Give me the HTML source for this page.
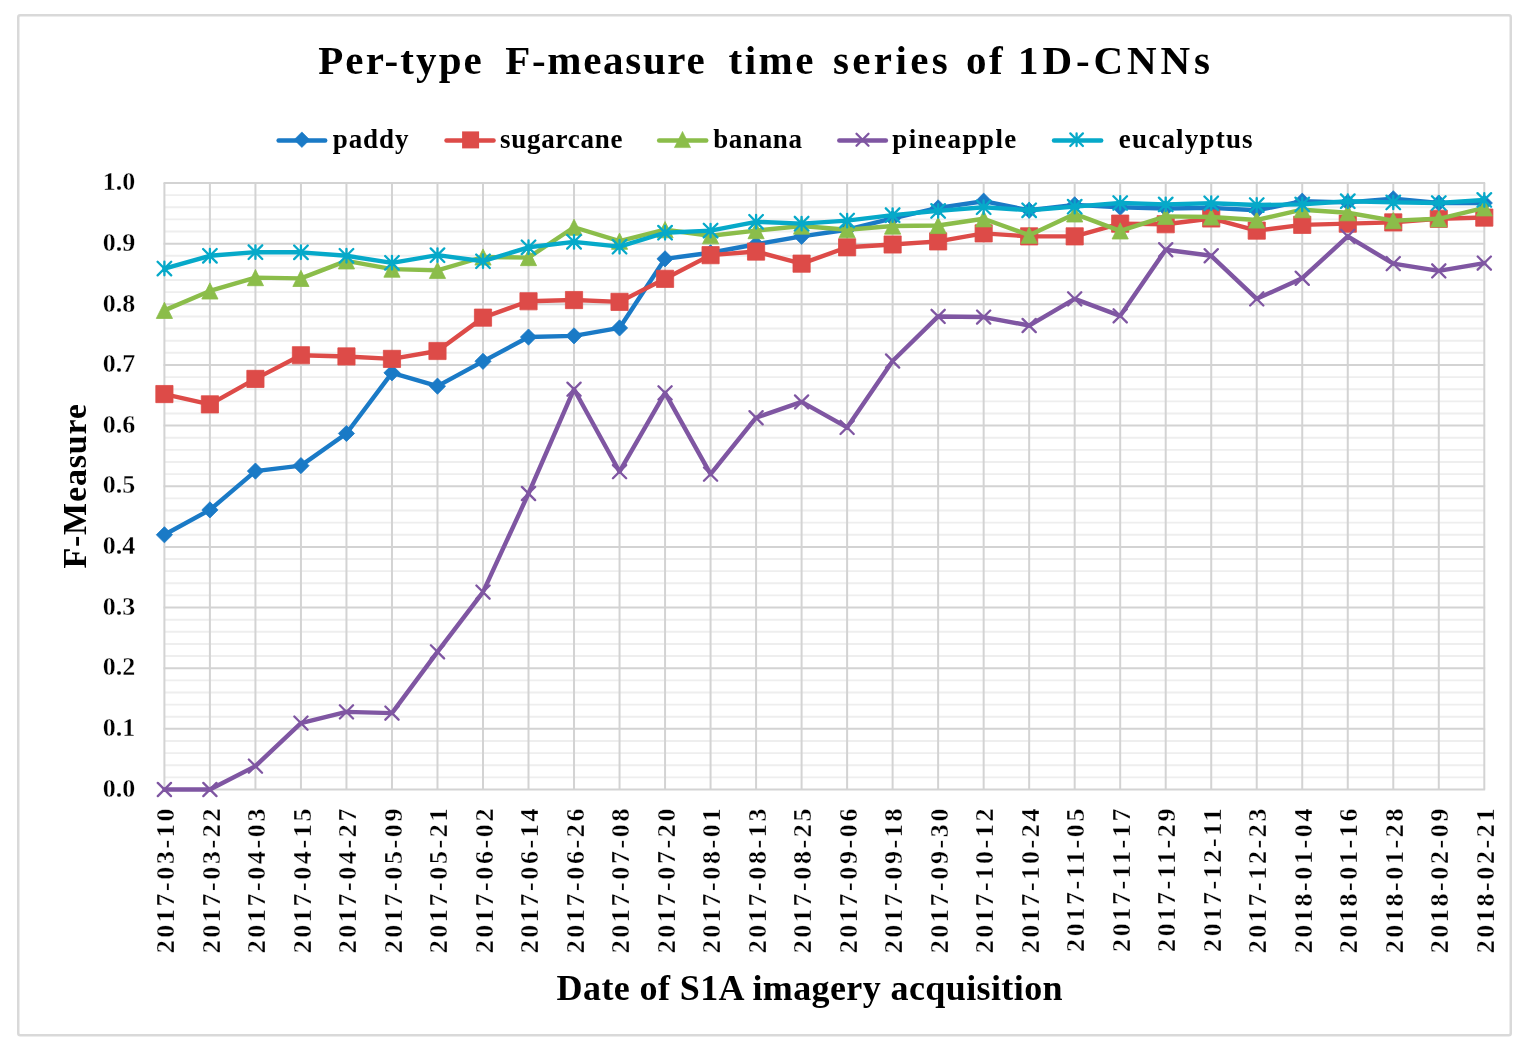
<!DOCTYPE html>
<html><head><meta charset="utf-8"><title>Per-type F-measure time series of 1D-CNNs</title>
<style>
html,body{margin:0;padding:0;background:#fff;}
body{width:1528px;height:1053px;overflow:hidden;}
svg{display:block;}
text{font-family:"Liberation Serif","DejaVu Serif",serif;font-weight:bold;fill:#000;}
text.tk{font-weight:bold;stroke:#fff;stroke-width:0.3;}
text.yt{stroke-width:0.3;}
</style></head><body>
<svg width="1528" height="1053" viewBox="0 0 1528 1053">
<rect x="0" y="0" width="1528" height="1053" fill="#fff"/>
<rect x="18.25" y="15.25" width="1492.5" height="1020" rx="2" fill="#fff" stroke="#d9d9d9" stroke-width="2.5"/>

<g stroke="#eeeeee" stroke-width="1.9">
<line x1="164.40" y1="777.37" x2="1484.30" y2="777.37"/>
<line x1="164.40" y1="765.24" x2="1484.30" y2="765.24"/>
<line x1="164.40" y1="753.11" x2="1484.30" y2="753.11"/>
<line x1="164.40" y1="740.98" x2="1484.30" y2="740.98"/>
<line x1="164.40" y1="716.72" x2="1484.30" y2="716.72"/>
<line x1="164.40" y1="704.59" x2="1484.30" y2="704.59"/>
<line x1="164.40" y1="692.46" x2="1484.30" y2="692.46"/>
<line x1="164.40" y1="680.33" x2="1484.30" y2="680.33"/>
<line x1="164.40" y1="656.07" x2="1484.30" y2="656.07"/>
<line x1="164.40" y1="643.94" x2="1484.30" y2="643.94"/>
<line x1="164.40" y1="631.81" x2="1484.30" y2="631.81"/>
<line x1="164.40" y1="619.68" x2="1484.30" y2="619.68"/>
<line x1="164.40" y1="595.42" x2="1484.30" y2="595.42"/>
<line x1="164.40" y1="583.29" x2="1484.30" y2="583.29"/>
<line x1="164.40" y1="571.16" x2="1484.30" y2="571.16"/>
<line x1="164.40" y1="559.03" x2="1484.30" y2="559.03"/>
<line x1="164.40" y1="534.77" x2="1484.30" y2="534.77"/>
<line x1="164.40" y1="522.64" x2="1484.30" y2="522.64"/>
<line x1="164.40" y1="510.51" x2="1484.30" y2="510.51"/>
<line x1="164.40" y1="498.38" x2="1484.30" y2="498.38"/>
<line x1="164.40" y1="474.12" x2="1484.30" y2="474.12"/>
<line x1="164.40" y1="461.99" x2="1484.30" y2="461.99"/>
<line x1="164.40" y1="449.86" x2="1484.30" y2="449.86"/>
<line x1="164.40" y1="437.73" x2="1484.30" y2="437.73"/>
<line x1="164.40" y1="413.47" x2="1484.30" y2="413.47"/>
<line x1="164.40" y1="401.34" x2="1484.30" y2="401.34"/>
<line x1="164.40" y1="389.21" x2="1484.30" y2="389.21"/>
<line x1="164.40" y1="377.08" x2="1484.30" y2="377.08"/>
<line x1="164.40" y1="352.82" x2="1484.30" y2="352.82"/>
<line x1="164.40" y1="340.69" x2="1484.30" y2="340.69"/>
<line x1="164.40" y1="328.56" x2="1484.30" y2="328.56"/>
<line x1="164.40" y1="316.43" x2="1484.30" y2="316.43"/>
<line x1="164.40" y1="292.17" x2="1484.30" y2="292.17"/>
<line x1="164.40" y1="280.04" x2="1484.30" y2="280.04"/>
<line x1="164.40" y1="267.91" x2="1484.30" y2="267.91"/>
<line x1="164.40" y1="255.78" x2="1484.30" y2="255.78"/>
<line x1="164.40" y1="231.52" x2="1484.30" y2="231.52"/>
<line x1="164.40" y1="219.39" x2="1484.30" y2="219.39"/>
<line x1="164.40" y1="207.26" x2="1484.30" y2="207.26"/>
<line x1="164.40" y1="195.13" x2="1484.30" y2="195.13"/>
</g>
<g stroke="#d3d3d3" stroke-width="2.0">
<line x1="163.55" y1="789.50" x2="1485.15" y2="789.50"/>
<line x1="163.55" y1="728.85" x2="1485.15" y2="728.85"/>
<line x1="163.55" y1="668.20" x2="1485.15" y2="668.20"/>
<line x1="163.55" y1="607.55" x2="1485.15" y2="607.55"/>
<line x1="163.55" y1="546.90" x2="1485.15" y2="546.90"/>
<line x1="163.55" y1="486.25" x2="1485.15" y2="486.25"/>
<line x1="163.55" y1="425.60" x2="1485.15" y2="425.60"/>
<line x1="163.55" y1="364.95" x2="1485.15" y2="364.95"/>
<line x1="163.55" y1="304.30" x2="1485.15" y2="304.30"/>
<line x1="163.55" y1="243.65" x2="1485.15" y2="243.65"/>
<line x1="163.55" y1="183.00" x2="1485.15" y2="183.00"/>
<line x1="164.40" y1="183.00" x2="164.40" y2="789.50"/>
<line x1="209.91" y1="183.00" x2="209.91" y2="789.50"/>
<line x1="255.43" y1="183.00" x2="255.43" y2="789.50"/>
<line x1="300.94" y1="183.00" x2="300.94" y2="789.50"/>
<line x1="346.46" y1="183.00" x2="346.46" y2="789.50"/>
<line x1="391.97" y1="183.00" x2="391.97" y2="789.50"/>
<line x1="437.48" y1="183.00" x2="437.48" y2="789.50"/>
<line x1="483.00" y1="183.00" x2="483.00" y2="789.50"/>
<line x1="528.51" y1="183.00" x2="528.51" y2="789.50"/>
<line x1="574.02" y1="183.00" x2="574.02" y2="789.50"/>
<line x1="619.54" y1="183.00" x2="619.54" y2="789.50"/>
<line x1="665.05" y1="183.00" x2="665.05" y2="789.50"/>
<line x1="710.57" y1="183.00" x2="710.57" y2="789.50"/>
<line x1="756.08" y1="183.00" x2="756.08" y2="789.50"/>
<line x1="801.59" y1="183.00" x2="801.59" y2="789.50"/>
<line x1="847.11" y1="183.00" x2="847.11" y2="789.50"/>
<line x1="892.62" y1="183.00" x2="892.62" y2="789.50"/>
<line x1="938.13" y1="183.00" x2="938.13" y2="789.50"/>
<line x1="983.65" y1="183.00" x2="983.65" y2="789.50"/>
<line x1="1029.16" y1="183.00" x2="1029.16" y2="789.50"/>
<line x1="1074.68" y1="183.00" x2="1074.68" y2="789.50"/>
<line x1="1120.19" y1="183.00" x2="1120.19" y2="789.50"/>
<line x1="1165.70" y1="183.00" x2="1165.70" y2="789.50"/>
<line x1="1211.22" y1="183.00" x2="1211.22" y2="789.50"/>
<line x1="1256.73" y1="183.00" x2="1256.73" y2="789.50"/>
<line x1="1302.24" y1="183.00" x2="1302.24" y2="789.50"/>
<line x1="1347.76" y1="183.00" x2="1347.76" y2="789.50"/>
<line x1="1393.27" y1="183.00" x2="1393.27" y2="789.50"/>
<line x1="1438.79" y1="183.00" x2="1438.79" y2="789.50"/>
<line x1="1484.30" y1="183.00" x2="1484.30" y2="789.50"/>
</g>
<polyline points="164.40,534.77 209.91,509.90 255.43,471.09 300.94,465.63 346.46,433.48 391.97,372.83 437.48,386.18 483.00,361.31 528.51,337.05 574.02,335.84 619.54,327.95 665.05,258.81 710.57,252.75 756.08,244.26 801.59,236.37 847.11,229.70 892.62,218.48 938.13,207.87 983.65,201.20 1029.16,210.29 1074.68,204.83 1120.19,207.26 1165.70,208.47 1211.22,207.87 1256.73,210.29 1302.24,201.20 1347.76,202.41 1393.27,198.77 1438.79,203.01 1484.30,203.01" fill="none" stroke="#1a7ac6" stroke-width="4.4" stroke-linejoin="round" stroke-linecap="round"/>
<path d="M164.40,526.67L172.50,534.77L164.40,542.87L156.30,534.77ZM209.91,501.80L218.01,509.90L209.91,518.00L201.81,509.90ZM255.43,462.99L263.53,471.09L255.43,479.19L247.33,471.09ZM300.94,457.53L309.04,465.63L300.94,473.73L292.84,465.63ZM346.46,425.38L354.56,433.48L346.46,441.58L338.36,433.48ZM391.97,364.73L400.07,372.83L391.97,380.93L383.87,372.83ZM437.48,378.08L445.58,386.18L437.48,394.28L429.38,386.18ZM483.00,353.21L491.10,361.31L483.00,369.41L474.90,361.31ZM528.51,328.95L536.61,337.05L528.51,345.15L520.41,337.05ZM574.02,327.74L582.12,335.84L574.02,343.94L565.92,335.84ZM619.54,319.85L627.64,327.95L619.54,336.05L611.44,327.95ZM665.05,250.71L673.15,258.81L665.05,266.91L656.95,258.81ZM710.57,244.65L718.67,252.75L710.57,260.85L702.47,252.75ZM756.08,236.16L764.18,244.26L756.08,252.36L747.98,244.26ZM801.59,228.27L809.69,236.37L801.59,244.47L793.49,236.37ZM847.11,221.60L855.21,229.70L847.11,237.80L839.01,229.70ZM892.62,210.38L900.72,218.48L892.62,226.58L884.52,218.48ZM938.13,199.77L946.23,207.87L938.13,215.97L930.03,207.87ZM983.65,193.10L991.75,201.20L983.65,209.30L975.55,201.20ZM1029.16,202.19L1037.26,210.29L1029.16,218.39L1021.06,210.29ZM1074.68,196.73L1082.78,204.83L1074.68,212.93L1066.58,204.83ZM1120.19,199.16L1128.29,207.26L1120.19,215.36L1112.09,207.26ZM1165.70,200.37L1173.80,208.47L1165.70,216.57L1157.60,208.47ZM1211.22,199.77L1219.32,207.87L1211.22,215.97L1203.12,207.87ZM1256.73,202.19L1264.83,210.29L1256.73,218.39L1248.63,210.29ZM1302.24,193.10L1310.34,201.20L1302.24,209.30L1294.14,201.20ZM1347.76,194.31L1355.86,202.41L1347.76,210.51L1339.66,202.41ZM1393.27,190.67L1401.37,198.77L1393.27,206.87L1385.17,198.77ZM1438.79,194.91L1446.89,203.01L1438.79,211.11L1430.69,203.01ZM1484.30,194.91L1492.40,203.01L1484.30,211.11L1476.20,203.01Z" fill="#1a7ac6" stroke="#1a7ac6" stroke-width="0.8" stroke-linejoin="round"/>
<polyline points="164.40,394.06 209.91,404.37 255.43,378.90 300.94,355.25 346.46,356.46 391.97,358.89 437.48,351.00 483.00,317.64 528.51,301.27 574.02,300.05 619.54,301.87 665.05,278.83 710.57,255.17 756.08,251.53 801.59,263.66 847.11,247.29 892.62,244.50 938.13,241.41 983.65,233.34 1029.16,236.37 1074.68,236.37 1120.19,223.64 1165.70,224.24 1211.22,218.48 1256.73,230.61 1302.24,224.85 1347.76,223.64 1393.27,222.42 1438.79,218.78 1484.30,217.57" fill="none" stroke="#dd4b48" stroke-width="4.4" stroke-linejoin="round" stroke-linecap="round"/>
<path d="M155.80,385.46h17.20v17.20h-17.20ZM201.31,395.77h17.20v17.20h-17.20ZM246.83,370.30h17.20v17.20h-17.20ZM292.34,346.65h17.20v17.20h-17.20ZM337.86,347.86h17.20v17.20h-17.20ZM383.37,350.29h17.20v17.20h-17.20ZM428.88,342.40h17.20v17.20h-17.20ZM474.40,309.04h17.20v17.20h-17.20ZM519.91,292.67h17.20v17.20h-17.20ZM565.42,291.45h17.20v17.20h-17.20ZM610.94,293.27h17.20v17.20h-17.20ZM656.45,270.23h17.20v17.20h-17.20ZM701.97,246.57h17.20v17.20h-17.20ZM747.48,242.93h17.20v17.20h-17.20ZM792.99,255.06h17.20v17.20h-17.20ZM838.51,238.69h17.20v17.20h-17.20ZM884.02,235.90h17.20v17.20h-17.20ZM929.53,232.81h17.20v17.20h-17.20ZM975.05,224.74h17.20v17.20h-17.20ZM1020.56,227.77h17.20v17.20h-17.20ZM1066.08,227.77h17.20v17.20h-17.20ZM1111.59,215.04h17.20v17.20h-17.20ZM1157.10,215.64h17.20v17.20h-17.20ZM1202.62,209.88h17.20v17.20h-17.20ZM1248.13,222.01h17.20v17.20h-17.20ZM1293.64,216.25h17.20v17.20h-17.20ZM1339.16,215.04h17.20v17.20h-17.20ZM1384.67,213.82h17.20v17.20h-17.20ZM1430.19,210.18h17.20v17.20h-17.20ZM1475.70,208.97h17.20v17.20h-17.20Z" fill="#dd4b48" stroke="#dd4b48" stroke-width="0.8" stroke-linejoin="round"/>
<polyline points="164.40,310.36 209.91,290.96 255.43,277.61 300.94,278.40 346.46,260.87 391.97,269.12 437.48,270.34 483.00,256.99 528.51,257.60 574.02,227.27 619.54,241.22 665.05,229.70 710.57,235.77 756.08,230.61 801.59,226.06 847.11,229.70 892.62,226.06 938.13,225.45 983.65,218.78 1029.16,235.16 1074.68,213.93 1120.19,230.91 1165.70,216.36 1211.22,216.96 1256.73,220.00 1302.24,209.69 1347.76,212.72 1393.27,220.60 1438.79,218.78 1484.30,207.87" fill="none" stroke="#8bbd4a" stroke-width="4.4" stroke-linejoin="round" stroke-linecap="round"/>
<path d="M164.40,302.26L172.50,318.46L156.30,318.46ZM209.91,282.86L218.01,299.06L201.81,299.06ZM255.43,269.51L263.53,285.71L247.33,285.71ZM300.94,270.30L309.04,286.50L292.84,286.50ZM346.46,252.77L354.56,268.97L338.36,268.97ZM391.97,261.02L400.07,277.22L383.87,277.22ZM437.48,262.24L445.58,278.44L429.38,278.44ZM483.00,248.89L491.10,265.09L474.90,265.09ZM528.51,249.50L536.61,265.70L520.41,265.70ZM574.02,219.17L582.12,235.37L565.92,235.37ZM619.54,233.12L627.64,249.32L611.44,249.32ZM665.05,221.60L673.15,237.80L656.95,237.80ZM710.57,227.67L718.67,243.87L702.47,243.87ZM756.08,222.51L764.18,238.71L747.98,238.71ZM801.59,217.96L809.69,234.16L793.49,234.16ZM847.11,221.60L855.21,237.80L839.01,237.80ZM892.62,217.96L900.72,234.16L884.52,234.16ZM938.13,217.35L946.23,233.55L930.03,233.55ZM983.65,210.68L991.75,226.88L975.55,226.88ZM1029.16,227.06L1037.26,243.26L1021.06,243.26ZM1074.68,205.83L1082.78,222.03L1066.58,222.03ZM1120.19,222.81L1128.29,239.01L1112.09,239.01ZM1165.70,208.26L1173.80,224.46L1157.60,224.46ZM1211.22,208.86L1219.32,225.06L1203.12,225.06ZM1256.73,211.90L1264.83,228.10L1248.63,228.10ZM1302.24,201.59L1310.34,217.79L1294.14,217.79ZM1347.76,204.62L1355.86,220.82L1339.66,220.82ZM1393.27,212.50L1401.37,228.70L1385.17,228.70ZM1438.79,210.68L1446.89,226.88L1430.69,226.88ZM1484.30,199.77L1492.40,215.97L1476.20,215.97Z" fill="#8bbd4a" stroke="#8bbd4a" stroke-width="0.8" stroke-linejoin="round"/>
<polyline points="164.40,789.50 209.91,789.50 255.43,766.09 300.94,723.09 346.46,711.87 391.97,713.08 437.48,651.82 483.00,592.08 528.51,493.53 574.02,389.21 619.54,471.69 665.05,392.85 710.57,474.12 756.08,417.72 801.59,401.95 847.11,427.42 892.62,361.01 938.13,316.43 983.65,317.04 1029.16,325.53 1074.68,298.84 1120.19,315.82 1165.70,249.72 1211.22,255.78 1256.73,298.84 1302.24,278.22 1347.76,236.37 1393.27,263.66 1438.79,270.94 1484.30,263.06" fill="none" stroke="#7f56a2" stroke-width="4.4" stroke-linejoin="round" stroke-linecap="round"/>
<path d="M157.80,782.90L171.00,796.10M171.00,782.90L157.80,796.10M203.31,782.90L216.51,796.10M216.51,782.90L203.31,796.10M248.83,759.49L262.03,772.69M262.03,759.49L248.83,772.69M294.34,716.49L307.54,729.69M307.54,716.49L294.34,729.69M339.86,705.27L353.06,718.47M353.06,705.27L339.86,718.47M385.37,706.48L398.57,719.68M398.57,706.48L385.37,719.68M430.88,645.22L444.08,658.42M444.08,645.22L430.88,658.42M476.40,585.48L489.60,598.68M489.60,585.48L476.40,598.68M521.91,486.93L535.11,500.13M535.11,486.93L521.91,500.13M567.42,382.61L580.62,395.81M580.62,382.61L567.42,395.81M612.94,465.09L626.14,478.29M626.14,465.09L612.94,478.29M658.45,386.25L671.65,399.45M671.65,386.25L658.45,399.45M703.97,467.52L717.17,480.72M717.17,467.52L703.97,480.72M749.48,411.12L762.68,424.32M762.68,411.12L749.48,424.32M794.99,395.35L808.19,408.55M808.19,395.35L794.99,408.55M840.51,420.82L853.71,434.02M853.71,420.82L840.51,434.02M886.02,354.41L899.22,367.61M899.22,354.41L886.02,367.61M931.53,309.83L944.73,323.03M944.73,309.83L931.53,323.03M977.05,310.44L990.25,323.64M990.25,310.44L977.05,323.64M1022.56,318.93L1035.76,332.13M1035.76,318.93L1022.56,332.13M1068.08,292.24L1081.28,305.44M1081.28,292.24L1068.08,305.44M1113.59,309.22L1126.79,322.42M1126.79,309.22L1113.59,322.42M1159.10,243.12L1172.30,256.32M1172.30,243.12L1159.10,256.32M1204.62,249.18L1217.82,262.38M1217.82,249.18L1204.62,262.38M1250.13,292.24L1263.33,305.44M1263.33,292.24L1250.13,305.44M1295.64,271.62L1308.84,284.82M1308.84,271.62L1295.64,284.82M1341.16,229.77L1354.36,242.97M1354.36,229.77L1341.16,242.97M1386.67,257.06L1399.87,270.26M1399.87,257.06L1386.67,270.26M1432.19,264.34L1445.39,277.54M1445.39,264.34L1432.19,277.54M1477.70,256.46L1490.90,269.66M1490.90,256.46L1477.70,269.66" fill="none" stroke="#7f56a2" stroke-width="2.3" stroke-linecap="round"/>
<polyline points="164.40,268.52 209.91,255.78 255.43,252.14 300.94,252.32 346.46,255.78 391.97,262.82 437.48,255.17 483.00,261.24 528.51,247.29 574.02,241.83 619.54,246.68 665.05,232.73 710.57,230.61 756.08,221.82 801.59,223.64 847.11,220.60 892.62,215.14 938.13,210.90 983.65,207.26 1029.16,210.29 1074.68,206.65 1120.19,203.01 1165.70,204.41 1211.22,203.32 1256.73,205.02 1302.24,204.41 1347.76,201.20 1393.27,202.41 1438.79,203.01 1484.30,199.98" fill="none" stroke="#06a9c9" stroke-width="4.4" stroke-linejoin="round" stroke-linecap="round"/>
<path d="M157.60,261.72L171.20,275.32M171.20,261.72L157.60,275.32M164.40,261.72V275.32M203.11,248.98L216.71,262.58M216.71,248.98L203.11,262.58M209.91,248.98V262.58M248.63,245.34L262.23,258.94M262.23,245.34L248.63,258.94M255.43,245.34V258.94M294.14,245.52L307.74,259.12M307.74,245.52L294.14,259.12M300.94,245.52V259.12M339.66,248.98L353.26,262.58M353.26,248.98L339.66,262.58M346.46,248.98V262.58M385.17,256.02L398.77,269.62M398.77,256.02L385.17,269.62M391.97,256.02V269.62M430.68,248.37L444.28,261.97M444.28,248.37L430.68,261.97M437.48,248.37V261.97M476.20,254.44L489.80,268.04M489.80,254.44L476.20,268.04M483.00,254.44V268.04M521.71,240.49L535.31,254.09M535.31,240.49L521.71,254.09M528.51,240.49V254.09M567.22,235.03L580.82,248.63M580.82,235.03L567.22,248.63M574.02,235.03V248.63M612.74,239.88L626.34,253.48M626.34,239.88L612.74,253.48M619.54,239.88V253.48M658.25,225.93L671.85,239.53M671.85,225.93L658.25,239.53M665.05,225.93V239.53M703.77,223.81L717.37,237.41M717.37,223.81L703.77,237.41M710.57,223.81V237.41M749.28,215.02L762.88,228.62M762.88,215.02L749.28,228.62M756.08,215.02V228.62M794.79,216.84L808.39,230.44M808.39,216.84L794.79,230.44M801.59,216.84V230.44M840.31,213.80L853.91,227.40M853.91,213.80L840.31,227.40M847.11,213.80V227.40M885.82,208.34L899.42,221.94M899.42,208.34L885.82,221.94M892.62,208.34V221.94M931.33,204.10L944.93,217.70M944.93,204.10L931.33,217.70M938.13,204.10V217.70M976.85,200.46L990.45,214.06M990.45,200.46L976.85,214.06M983.65,200.46V214.06M1022.36,203.49L1035.96,217.09M1035.96,203.49L1022.36,217.09M1029.16,203.49V217.09M1067.88,199.85L1081.48,213.45M1081.48,199.85L1067.88,213.45M1074.68,199.85V213.45M1113.39,196.21L1126.99,209.81M1126.99,196.21L1113.39,209.81M1120.19,196.21V209.81M1158.90,197.61L1172.50,211.21M1172.50,197.61L1158.90,211.21M1165.70,197.61V211.21M1204.42,196.52L1218.02,210.12M1218.02,196.52L1204.42,210.12M1211.22,196.52V210.12M1249.93,198.22L1263.53,211.82M1263.53,198.22L1249.93,211.82M1256.73,198.22V211.82M1295.44,197.61L1309.04,211.21M1309.04,197.61L1295.44,211.21M1302.24,197.61V211.21M1340.96,194.40L1354.56,208.00M1354.56,194.40L1340.96,208.00M1347.76,194.40V208.00M1386.47,195.61L1400.07,209.21M1400.07,195.61L1386.47,209.21M1393.27,195.61V209.21M1431.99,196.21L1445.59,209.81M1445.59,196.21L1431.99,209.81M1438.79,196.21V209.81M1477.50,193.18L1491.10,206.78M1491.10,193.18L1477.50,206.78M1484.30,193.18V206.78" fill="none" stroke="#06a9c9" stroke-width="2.3" stroke-linecap="round"/>
<text y="73.5" font-size="41"><tspan x="318.2" letter-spacing="2.12">Per-type</tspan><tspan x="505.3" letter-spacing="1.68">F-measure</tspan><tspan x="728.6" letter-spacing="2.45">time</tspan><tspan x="833.0" letter-spacing="3.35">series</tspan><tspan x="965.9" letter-spacing="2.6">of</tspan><tspan x="1018.1" letter-spacing="3.9">1D-CNNs</tspan></text>
<line x1="278.60" y1="140.5" x2="325.20" y2="140.5" stroke="#1a7ac6" stroke-width="4.4" stroke-linecap="round"/>
<path d="M301.90,131.90L309.70,139.70L301.90,147.50L294.10,139.70Z" fill="#1a7ac6" stroke="#1a7ac6" stroke-width="0.6" stroke-linejoin="round"/>
<text x="332.8" y="147.6" font-size="27" letter-spacing="0.9">paddy</text>
<line x1="446.50" y1="140.5" x2="493.60" y2="140.5" stroke="#dd4b48" stroke-width="4.4" stroke-linecap="round"/>
<path d="M462.10,131.40h17.00v17.00h-17.00Z" fill="#dd4b48"/>
<text x="500.0" y="147.6" font-size="27" letter-spacing="0.76">sugarcane</text>
<line x1="659.10" y1="140.5" x2="706.30" y2="140.5" stroke="#8bbd4a" stroke-width="4.4" stroke-linecap="round"/>
<path d="M682.50,131.40L690.60,147.60L674.40,147.60Z" fill="#8bbd4a" stroke="#8bbd4a" stroke-width="0.6" stroke-linejoin="round"/>
<text x="713.2" y="147.6" font-size="27" letter-spacing="0.65">banana</text>
<line x1="839.30" y1="140.5" x2="885.90" y2="140.5" stroke="#7f56a2" stroke-width="4.4" stroke-linecap="round"/>
<path d="M856.50,133.70L868.50,145.70M868.50,133.70L856.50,145.70" stroke="#7f56a2" stroke-width="2.3" stroke-linecap="round" fill="none"/>
<text x="892.3" y="147.6" font-size="27" letter-spacing="1.44">pineapple</text>
<line x1="1054.00" y1="140.5" x2="1101.20" y2="140.5" stroke="#06a9c9" stroke-width="4.4" stroke-linecap="round"/>
<path d="M1070.30,133.40L1082.90,146.00M1082.90,133.40L1070.30,146.00M1076.60,133.40V146.00" stroke="#06a9c9" stroke-width="2.3" stroke-linecap="round" fill="none"/>
<text x="1118.8" y="147.6" font-size="27" letter-spacing="1.2">eucalyptus</text>
<text x="135.2" y="796.70" text-anchor="end" font-size="26" class="tk yt">0.0</text>
<text x="135.2" y="736.05" text-anchor="end" font-size="26" class="tk yt">0.1</text>
<text x="135.2" y="675.40" text-anchor="end" font-size="26" class="tk yt">0.2</text>
<text x="135.2" y="614.75" text-anchor="end" font-size="26" class="tk yt">0.3</text>
<text x="135.2" y="554.10" text-anchor="end" font-size="26" class="tk yt">0.4</text>
<text x="135.2" y="493.45" text-anchor="end" font-size="26" class="tk yt">0.5</text>
<text x="135.2" y="432.80" text-anchor="end" font-size="26" class="tk yt">0.6</text>
<text x="135.2" y="372.15" text-anchor="end" font-size="26" class="tk yt">0.7</text>
<text x="135.2" y="311.50" text-anchor="end" font-size="26" class="tk yt">0.8</text>
<text x="135.2" y="250.85" text-anchor="end" font-size="26" class="tk yt">0.9</text>
<text x="135.2" y="190.20" text-anchor="end" font-size="26" class="tk yt">1.0</text>
<text transform="translate(174.10,806) rotate(-90)" text-anchor="end" font-size="26" letter-spacing="2.6" class="tk">2017-03-10</text>
<text transform="translate(219.61,806) rotate(-90)" text-anchor="end" font-size="26" letter-spacing="2.6" class="tk">2017-03-22</text>
<text transform="translate(265.13,806) rotate(-90)" text-anchor="end" font-size="26" letter-spacing="2.6" class="tk">2017-04-03</text>
<text transform="translate(310.64,806) rotate(-90)" text-anchor="end" font-size="26" letter-spacing="2.6" class="tk">2017-04-15</text>
<text transform="translate(356.16,806) rotate(-90)" text-anchor="end" font-size="26" letter-spacing="2.6" class="tk">2017-04-27</text>
<text transform="translate(401.67,806) rotate(-90)" text-anchor="end" font-size="26" letter-spacing="2.6" class="tk">2017-05-09</text>
<text transform="translate(447.18,806) rotate(-90)" text-anchor="end" font-size="26" letter-spacing="2.6" class="tk">2017-05-21</text>
<text transform="translate(492.70,806) rotate(-90)" text-anchor="end" font-size="26" letter-spacing="2.6" class="tk">2017-06-02</text>
<text transform="translate(538.21,806) rotate(-90)" text-anchor="end" font-size="26" letter-spacing="2.6" class="tk">2017-06-14</text>
<text transform="translate(583.72,806) rotate(-90)" text-anchor="end" font-size="26" letter-spacing="2.6" class="tk">2017-06-26</text>
<text transform="translate(629.24,806) rotate(-90)" text-anchor="end" font-size="26" letter-spacing="2.6" class="tk">2017-07-08</text>
<text transform="translate(674.75,806) rotate(-90)" text-anchor="end" font-size="26" letter-spacing="2.6" class="tk">2017-07-20</text>
<text transform="translate(720.27,806) rotate(-90)" text-anchor="end" font-size="26" letter-spacing="2.6" class="tk">2017-08-01</text>
<text transform="translate(765.78,806) rotate(-90)" text-anchor="end" font-size="26" letter-spacing="2.6" class="tk">2017-08-13</text>
<text transform="translate(811.29,806) rotate(-90)" text-anchor="end" font-size="26" letter-spacing="2.6" class="tk">2017-08-25</text>
<text transform="translate(856.81,806) rotate(-90)" text-anchor="end" font-size="26" letter-spacing="2.6" class="tk">2017-09-06</text>
<text transform="translate(902.32,806) rotate(-90)" text-anchor="end" font-size="26" letter-spacing="2.6" class="tk">2017-09-18</text>
<text transform="translate(947.83,806) rotate(-90)" text-anchor="end" font-size="26" letter-spacing="2.6" class="tk">2017-09-30</text>
<text transform="translate(993.35,806) rotate(-90)" text-anchor="end" font-size="26" letter-spacing="2.6" class="tk">2017-10-12</text>
<text transform="translate(1038.86,806) rotate(-90)" text-anchor="end" font-size="26" letter-spacing="2.6" class="tk">2017-10-24</text>
<text transform="translate(1084.38,806) rotate(-90)" text-anchor="end" font-size="26" letter-spacing="2.6" class="tk">2017-11-05</text>
<text transform="translate(1129.89,806) rotate(-90)" text-anchor="end" font-size="26" letter-spacing="2.6" class="tk">2017-11-17</text>
<text transform="translate(1175.40,806) rotate(-90)" text-anchor="end" font-size="26" letter-spacing="2.6" class="tk">2017-11-29</text>
<text transform="translate(1220.92,806) rotate(-90)" text-anchor="end" font-size="26" letter-spacing="2.6" class="tk">2017-12-11</text>
<text transform="translate(1266.43,806) rotate(-90)" text-anchor="end" font-size="26" letter-spacing="2.6" class="tk">2017-12-23</text>
<text transform="translate(1311.94,806) rotate(-90)" text-anchor="end" font-size="26" letter-spacing="2.6" class="tk">2018-01-04</text>
<text transform="translate(1357.46,806) rotate(-90)" text-anchor="end" font-size="26" letter-spacing="2.6" class="tk">2018-01-16</text>
<text transform="translate(1402.97,806) rotate(-90)" text-anchor="end" font-size="26" letter-spacing="2.6" class="tk">2018-01-28</text>
<text transform="translate(1448.49,806) rotate(-90)" text-anchor="end" font-size="26" letter-spacing="2.6" class="tk">2018-02-09</text>
<text transform="translate(1494.00,806) rotate(-90)" text-anchor="end" font-size="26" letter-spacing="2.6" class="tk">2018-02-21</text>
<text transform="translate(86,486) rotate(-90)" text-anchor="middle" font-size="34" letter-spacing="0.8">F-Measure</text>
<text x="809.8" y="999.8" text-anchor="middle" font-size="36" letter-spacing="0.4">Date of S1A imagery acquisition</text>
</svg>
</body></html>
